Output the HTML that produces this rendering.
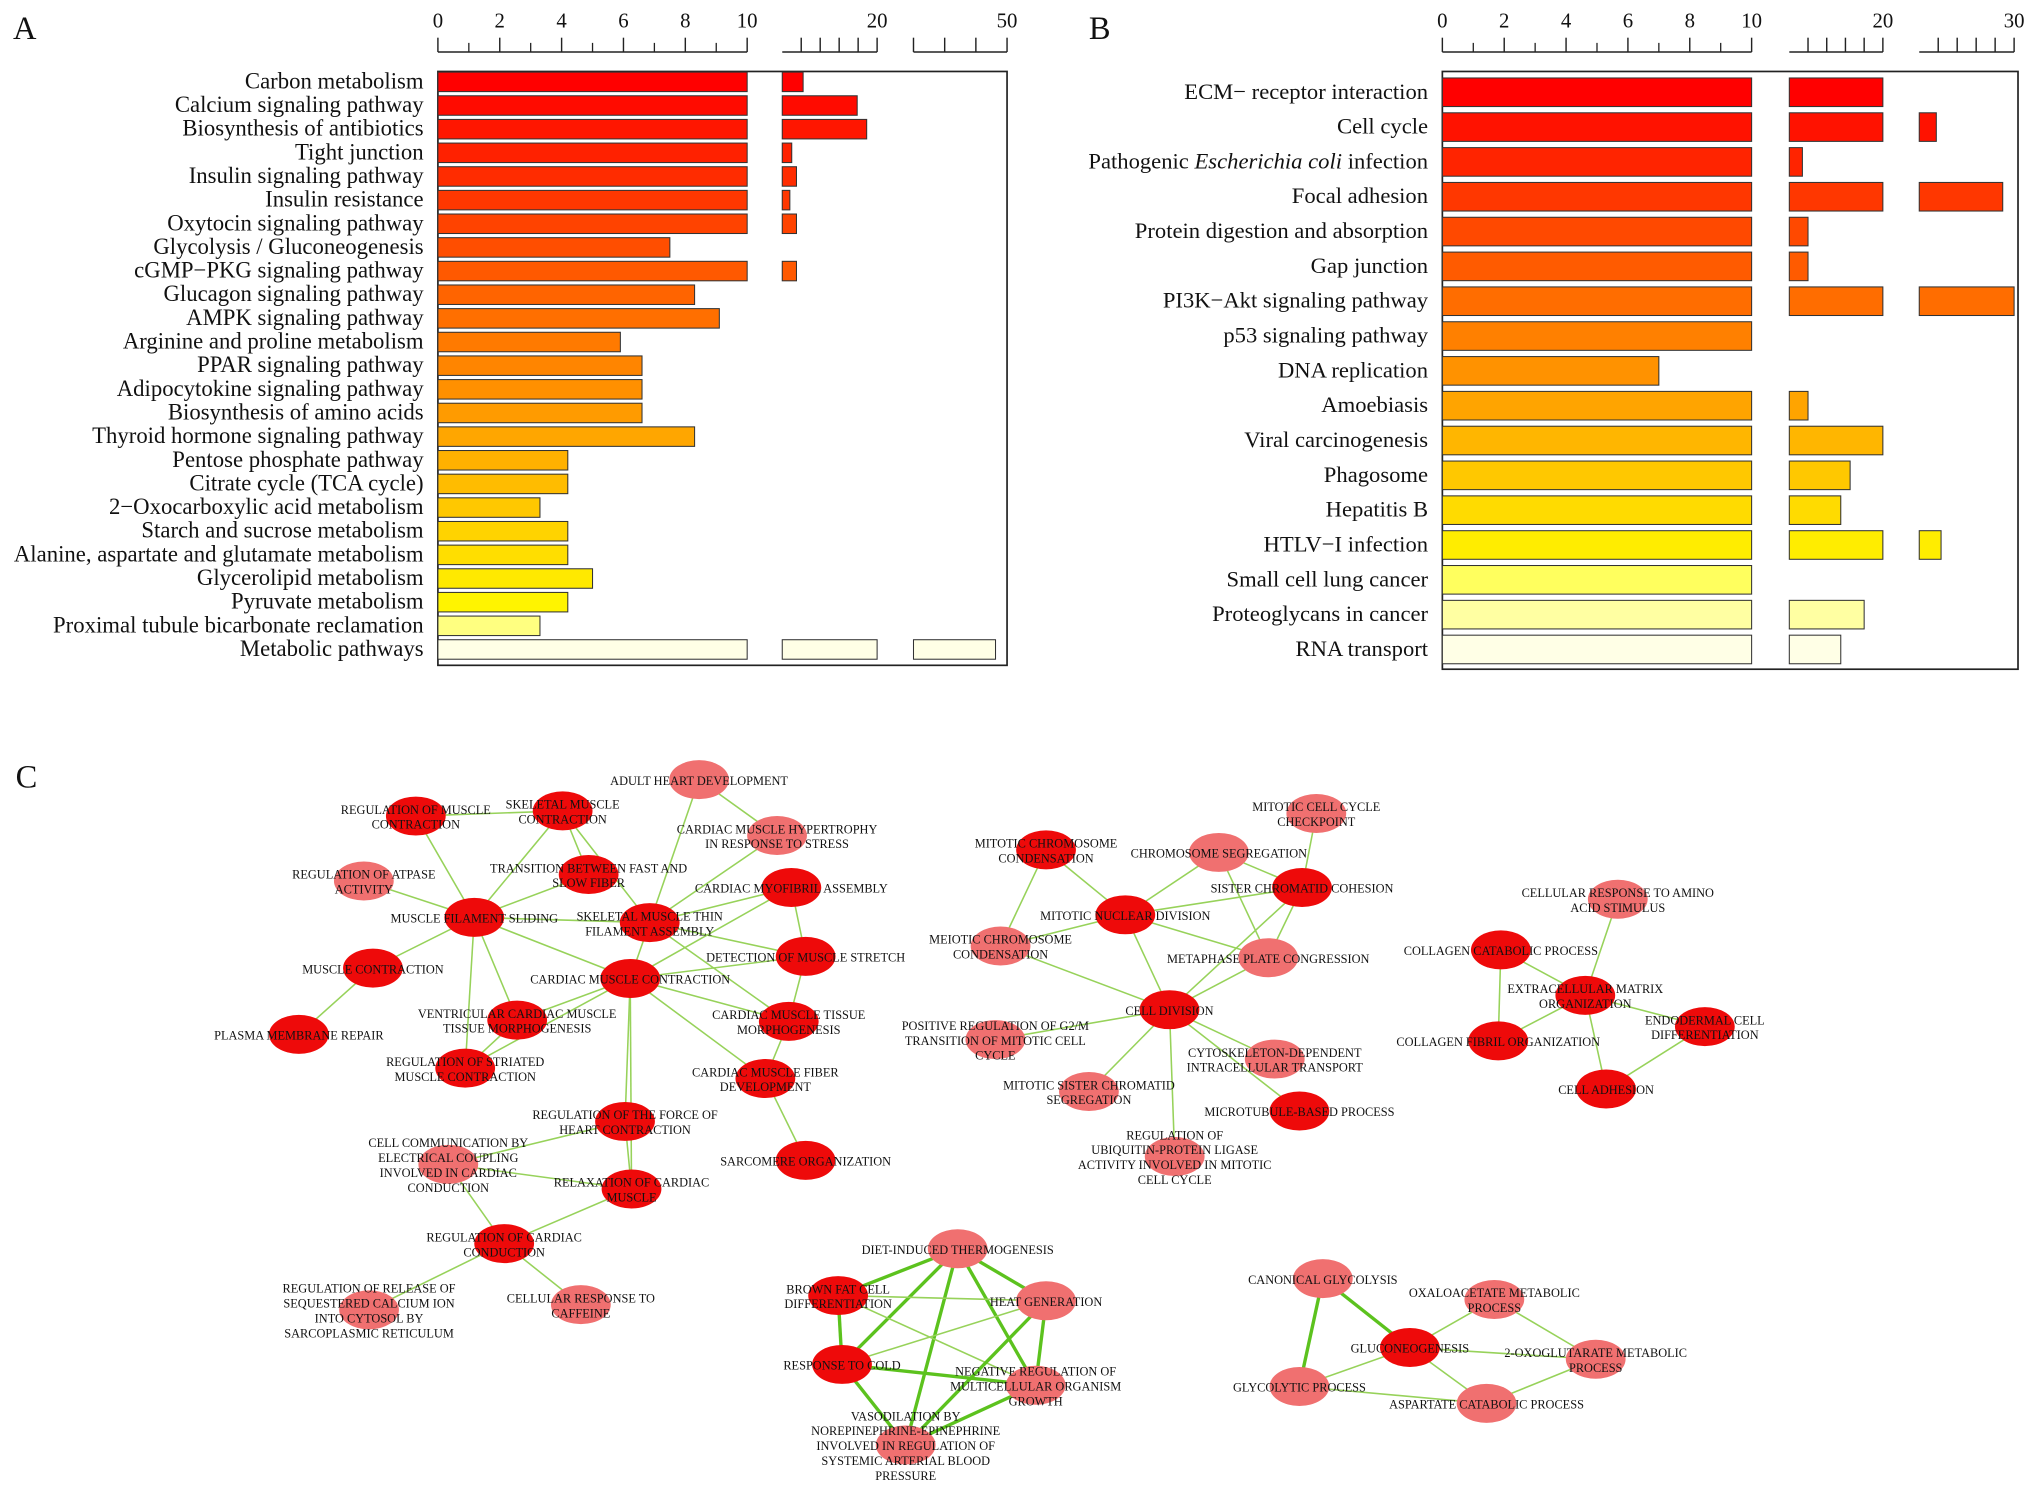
<!DOCTYPE html>
<html><head><meta charset="utf-8">
<style>
html,body{margin:0;padding:0;background:#fff;}
svg{display:block;}
text{font-family:"Liberation Serif",serif;fill:#111;}
</style></head>
<body>
<svg id="fig" width="2031" height="1491" viewBox="0 0 1563 1147.4" preserveAspectRatio="none" xmlns="http://www.w3.org/2000/svg">
<rect width="1563" height="1148" fill="#fff"/>
<text x="10" y="30" font-size="25">A</text>
<text x="838" y="30" font-size="25">B</text>
<text x="12" y="606" font-size="25">C</text>
<g id="pa"></g>
<g id="pb"></g>
<g id="pc"></g>
</svg>
<script>
const catsA=["Carbon metabolism","Calcium signaling pathway","Biosynthesis of antibiotics","Tight junction","Insulin signaling pathway","Insulin resistance","Oxytocin signaling pathway","Glycolysis / Gluconeogenesis","cGMP\u2212PKG signaling pathway","Glucagon signaling pathway","AMPK signaling pathway","Arginine and proline metabolism","PPAR signaling pathway","Adipocytokine signaling pathway","Biosynthesis of amino acids","Thyroid hormone signaling pathway","Pentose phosphate pathway","Citrate cycle (TCA cycle)","2\u2212Oxocarboxylic acid metabolism","Starch and sucrose metabolism","Alanine, aspartate and glutamate metabolism","Glycerolipid metabolism","Pyruvate metabolism","Proximal tubule bicarbonate reclamation","Metabolic pathways"];
const valsA=[12.2,17.9,18.9,11,11.5,10.8,11.5,7.5,11.5,8.3,9.1,5.9,6.6,6.6,6.6,8.3,4.2,4.2,3.3,4.2,4.2,5,4.2,3.3,46.3];
const catsB=["ECM\u2212 receptor interaction","Cell cycle","Pathogenic Escherichia coli infection","Focal adhesion","Protein digestion and absorption","Gap junction","PI3K\u2212Akt signaling pathway","p53 signaling pathway","DNA replication","Amoebiasis","Viral carcinogenesis","Phagosome","Hepatitis B","HTLV\u2212I infection","Small cell lung cancer","Proteoglycans in cancer","RNA transport"];
const valsB=[20,21.8,11.4,28.8,12,12,30,10,7,12,20,16.5,15.5,22.3,10,18,15.5];
const tickLabelsA=["0","2","4","6","8","10","20","50"];
const tickLabelsB=["0","2","4","6","8","10","20","30"];
const NS="http://www.w3.org/2000/svg";
function mk(p,t,a){const e=document.createElementNS(NS,t);for(const k in a)e.setAttribute(k,a[k]);p.appendChild(e);return e;}

function colorFor(i,n,paleStart){
  const f=i/(n-1);
  if(i>=paleStart){const g=(i-paleStart+1)/(n-paleStart);return `hsl(60,100%,${55+g*40}%)`;}
  const h=Math.min(60,f/(paleStart/(n-1))*60);
  return `hsl(${h},100%,50%)`;
}

function drawPanel(g,cats,vals,segs,left,right,top,bottom,y0,step,bh,labelX,fs,tickLabels,tickVals,paleStart,name){
  const seg=(v,s)=>s.p0+(Math.min(v,s.d1)-s.d0)/(s.d1-s.d0)*(s.p1-s.p0);
  mk(g,'rect',{x:left,y:top,width:right-left,height:bottom-top,fill:'none',stroke:'#222','stroke-width':1.3});
  segs.forEach((s,si)=>{
    const ax=mk(g,'line',{x1:s.p0,x2:s.p1,y1:40,y2:40,stroke:'#222','stroke-width':1.2});
    
    
    s.minor.forEach(t=>{const x=seg(t,s);mk(g,'line',{x1:x,x2:x,y1:40,y2:33,stroke:'#222','stroke-width':1});});
    s.major.forEach(t=>{const x=seg(t,s);mk(g,'line',{x1:x,x2:x,y1:40,y2:29,stroke:'#222','stroke-width':1.1});});
  });
  tickVals.forEach((t,i)=>{
    const s=segs[t.s];const x=seg(t.v,s);
    const tx=mk(g,'text',{x:x,y:21,'font-size':16,'text-anchor':'middle'});
    tx.textContent=tickLabels[i];
    
    
  });
  cats.forEach((c,i)=>{
    const y=y0+i*step;
    const col=colorFor(i,cats.length,paleStart);
    const lt=mk(g,'text',{x:labelX,y:y+5,'font-size':fs,'text-anchor':'end'});
    if(c.indexOf('Escherichia coli')>=0){
      const a=c.split('Escherichia coli');
      mk(lt,'tspan',{}).textContent=a[0];
      mk(lt,'tspan',{'font-style':'italic'}).textContent='Escherichia coli';
      mk(lt,'tspan',{}).textContent=a[1];
    } else lt.textContent=c;
    
    
    segs.forEach(s=>{
      if(vals[i]>s.d0){
        const x2=seg(vals[i],s);
        const r=mk(g,'rect',{x:s.p0,y:y-bh/2,width:x2-s.p0,height:bh,fill:col,stroke:'#333','stroke-width':0.8});
        
        
      }
    });
  });
}
const rng=(a,b,st)=>{const r=[];for(let v=a;v<=b+1e-9;v+=st)r.push(v);return r;};
drawPanel(document.getElementById('pa'),catsA,valsA,
 [{d0:0,d1:10,p0:337,p1:575,minor:rng(1,9,2),major:rng(0,10,2)},
  {d0:10,d1:20,p0:602,p1:675,minor:[],major:[12,14,16,18,20]},
  {d0:20,d1:50,p0:703,p1:775,minor:[],major:[20,30,40,50]}],
 337,775,55,512,63,18.2,15,326,17.5,tickLabelsA,
 [{s:0,v:0},{s:0,v:2},{s:0,v:4},{s:0,v:6},{s:0,v:8},{s:0,v:10},{s:1,v:20},{s:2,v:50}],23,'panel-a');
drawPanel(document.getElementById('pb'),catsB,valsB,
 [{d0:0,d1:10,p0:1110,p1:1348,minor:rng(1,9,2),major:rng(0,10,2)},
  {d0:10,d1:20,p0:1377,p1:1449,minor:[],major:[12,14,16,18,20]},
  {d0:20,d1:30,p0:1477,p1:1550,minor:[],major:[22,24,26,28,30]}],
 1110,1553,55,515,71,26.8,22,1099,17.4,tickLabelsB,
 [{s:0,v:0},{s:0,v:2},{s:0,v:4},{s:0,v:6},{s:0,v:8},{s:0,v:10},{s:1,v:20},{s:2,v:30}],14,'panel-b');

const nodes=[
[538,600,0,["ADULT HEART DEVELOPMENT"]],
[320,628,1,["REGULATION OF MUSCLE","CONTRACTION"]],
[433,624,1,["SKELETAL MUSCLE","CONTRACTION"]],
[598,643,0,["CARDIAC MUSCLE HYPERTROPHY","IN RESPONSE TO STRESS"]],
[280,678,0,["REGULATION OF ATPASE","ACTIVITY"]],
[453,673,1,["TRANSITION BETWEEN FAST AND","SLOW FIBER"]],
[609,683,1,["CARDIAC MYOFIBRIL ASSEMBLY"]],
[365,706,1,["MUSCLE FILAMENT SLIDING"]],
[500,710,1,["SKELETAL MUSCLE THIN","FILAMENT ASSEMBLY"]],
[620,736,1,["DETECTION OF MUSCLE STRETCH"]],
[287,745,1,["MUSCLE CONTRACTION"]],
[485,753,1,["CARDIAC MUSCLE CONTRACTION"]],
[398,785,1,["VENTRICULAR CARDIAC MUSCLE","TISSUE MORPHOGENESIS"]],
[607,786,1,["CARDIAC MUSCLE TISSUE","MORPHOGENESIS"]],
[230,796,1,["PLASMA MEMBRANE REPAIR"]],
[358,822,1,["REGULATION OF STRIATED","MUSCLE CONTRACTION"]],
[589,830,1,["CARDIAC MUSCLE FIBER","DEVELOPMENT"]],
[481,863,1,["REGULATION OF THE FORCE OF","HEART CONTRACTION"]],
[345,896,0,["CELL COMMUNICATION BY","ELECTRICAL COUPLING","INVOLVED IN CARDIAC","CONDUCTION"]],
[620,893,1,["SARCOMERE ORGANIZATION"]],
[486,915,1,["RELAXATION OF CARDIAC","MUSCLE"]],
[388,957,1,["REGULATION OF CARDIAC","CONDUCTION"]],
[284,1008,0,["REGULATION OF RELEASE OF","SEQUESTERED CALCIUM ION","INTO CYTOSOL BY","SARCOPLASMIC RETICULUM"]],
[447,1004,0,["CELLULAR RESPONSE TO","CAFFEINE"]],
[805,654,1,["MITOTIC CHROMOSOME","CONDENSATION"]],
[938,656,0,["CHROMOSOME SEGREGATION"]],
[1013,626,0,["MITOTIC CELL CYCLE","CHECKPOINT"]],
[1002,683,1,["SISTER CHROMATID COHESION"]],
[866,704,1,["MITOTIC NUCLEAR DIVISION"]],
[770,728,0,["MEIOTIC CHROMOSOME","CONDENSATION"]],
[976,737,0,["METAPHASE PLATE CONGRESSION"]],
[900,777,1,["CELL DIVISION"]],
[766,800,0,["POSITIVE REGULATION OF G2/M","TRANSITION OF MITOTIC CELL","CYCLE"]],
[981,815,0,["CYTOSKELETON-DEPENDENT","INTRACELLULAR TRANSPORT"]],
[838,840,0,["MITOTIC SISTER CHROMATID","SEGREGATION"]],
[1000,855,1,["MICROTUBULE-BASED PROCESS"]],
[904,890,0,["REGULATION OF","UBIQUITIN-PROTEIN LIGASE","ACTIVITY INVOLVED IN MITOTIC","CELL CYCLE"]],
[1245,692,0,["CELLULAR RESPONSE TO AMINO","ACID STIMULUS"]],
[1155,731,1,["COLLAGEN CATABOLIC PROCESS"]],
[1220,766,1,["EXTRACELLULAR MATRIX","ORGANIZATION"]],
[1312,790,1,["ENDODERMAL CELL","DIFFERENTIATION"]],
[1153,801,1,["COLLAGEN FIBRIL ORGANIZATION"]],
[1236,838,1,["CELL ADHESION"]],
[737,961,0,["DIET-INDUCED THERMOGENESIS"]],
[645,997,1,["BROWN FAT CELL","DIFFERENTIATION"]],
[805,1001,0,["HEAT GENERATION"]],
[648,1050,1,["RESPONSE TO COLD"]],
[797,1066,0,["NEGATIVE REGULATION OF","MULTICELLULAR ORGANISM","GROWTH"]],
[697,1112,0,["VASODILATION BY","NOREPINEPHRINE-EPINEPHRINE","INVOLVED IN REGULATION OF","SYSTEMIC ARTERIAL BLOOD","PRESSURE"]],
[1018,984,0,["CANONICAL GLYCOLYSIS"]],
[1150,1000,0,["OXALOACETATE METABOLIC","PROCESS"]],
[1085,1037,1,["GLUCONEOGENESIS"]],
[1228,1046,0,["2-OXOGLUTARATE METABOLIC","PROCESS"]],
[1000,1067,0,["GLYCOLYTIC PROCESS"]],
[1144,1080,0,["ASPARTATE CATABOLIC PROCESS"]]
];
const edges=[[1,2],[1,7],[2,7],[2,5],[4,7],[5,7],[7,8],[7,10],[7,11],[7,12],[8,11],[8,6],[8,9],[8,13],[11,9],[11,13],[11,16],[11,12],[11,17],[11,6],[0,8],[0,3],[3,8],[6,9],[9,13],[10,14],[12,15],[7,15],[11,15],[17,20],[17,18],[18,20],[20,21],[18,21],[21,22],[21,23],[16,19],[13,16],[2,8],[11,20],
[24,28],[24,29],[25,27],[25,28],[25,30],[26,27],[27,28],[27,30],[28,31],[28,30],[29,31],[30,31],[31,32],[31,33],[31,34],[31,35],[31,36],[28,29],[27,31],
[37,39],[38,39],[39,40],[39,41],[39,42],[38,41],[40,42],
[43,44,1],[43,45,1],[43,46,1],[43,47,1],[43,48,1],[44,45],[44,46,1],[44,47],[45,46],[45,47,1],[45,48,1],[46,48,1],[46,47,1],[47,48,1],
[49,51,1],[49,53,1],[51,50],[51,52],[51,54],[51,53],[50,52],[52,54],[53,54]];
const pc=document.getElementById('pc');
const eg=mk(pc,'g',{});
edges.forEach(e=>{
  const a=nodes[e[0]],b=nodes[e[1]];
  const l=mk(eg,'line',{x1:a[0],y1:a[1],x2:b[0],y2:b[1],stroke:e[2]?'#5cc21e':'#97d25a','stroke-width':e[2]?2.6:1.2});
  
  
});
nodes.forEach(n=>{
  const el=mk(pc,'ellipse',{cx:n[0],cy:n[1],rx:23,ry:15,fill:n[2]?'#ee0a0a':'#f07070'});
  
  
  const lines=n[3],lh=11.5;
  const t=mk(pc,'text',{'font-size':9.5,'text-anchor':'middle'});
  
  
  lines.forEach((s,k)=>{
    const ts=mk(t,'tspan',{x:n[0],y:n[1]+4-(lines.length-1)*lh/2+k*lh});
    ts.textContent=s;
  });
});
</script>
</body></html>
